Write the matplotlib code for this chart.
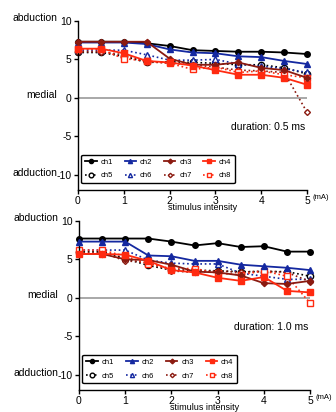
import matplotlib.pyplot as plt
import numpy as np

# stimulus intensity (mA)
intensity = [0, 0.5, 1, 1.5, 2, 2.5, 3, 3.5, 4, 4.5, 5]

channels = ["ch1", "ch2", "ch3", "ch4", "ch5", "ch6", "ch7", "ch8"]

# duration 0.5 ms
ch1_05 = [7.3, 7.3, 7.3, 7.1, 6.75, 6.2, 6.1, 6.0, 6.0, 5.9, 5.7]
ch2_05 = [7.2, 7.2, 7.2, 7.0, 6.3, 5.9, 5.8, 5.4, 5.3, 4.8, 4.4]
ch3_05 = [7.3, 7.3, 7.3, 7.3, 5.1, 4.3, 4.3, 4.6, 3.9, 3.6, 2.6]
ch4_05 = [6.4, 6.4, 5.8, 4.8, 4.6, 4.2, 3.6, 3.0, 3.0, 2.6, 1.7]
ch5_05 = [5.9, 5.9, 5.4, 4.6, 4.7, 4.6, 4.5, 4.3, 4.3, 3.9, 3.1]
ch6_05 = [6.2, 6.2, 6.2, 5.6, 4.9, 4.9, 5.0, 4.4, 4.1, 3.8, 3.3]
ch7_05 = [6.0, 6.0, 5.6, 4.7, 4.5, 4.3, 4.0, 3.6, 3.5, 3.3, -1.9]
ch8_05 = [6.3, 6.3, 5.1, 4.8, 4.5, 3.7, 4.0, 3.3, 3.5, 3.0, 2.6]

# duration 1.0 ms
ch1_10 = [7.7, 7.7, 7.7, 7.7, 7.3, 6.8, 7.1, 6.6, 6.7, 6.0, 6.0]
ch2_10 = [7.3, 7.3, 7.3, 5.5, 5.4, 4.8, 4.8, 4.3, 4.1, 3.9, 3.6]
ch3_10 = [5.7, 5.7, 5.0, 4.9, 4.3, 3.4, 3.3, 2.9, 1.9, 1.8, 2.2]
ch4_10 = [5.7, 5.7, 5.6, 4.8, 3.6, 3.3, 2.6, 2.2, 2.7, 0.9, 0.7]
ch5_10 = [6.0, 6.0, 5.1, 4.2, 3.6, 3.6, 3.5, 3.4, 3.4, 3.4, 2.8]
ch6_10 = [6.2, 6.2, 6.2, 4.9, 4.5, 4.4, 4.4, 3.2, 2.8, 2.4, 2.4]
ch7_10 = [5.9, 5.9, 4.8, 4.6, 3.5, 3.3, 3.5, 3.3, 3.5, 3.3, 2.1]
ch8_10 = [6.2, 6.2, 5.4, 4.4, 3.8, 3.8, 3.2, 3.0, 3.5, 2.8, -0.7]

panels = [
    ("duration: 0.5 ms", [ch1_05, ch2_05, ch3_05, ch4_05, ch5_05, ch6_05, ch7_05, ch8_05]),
    ("duration: 1.0 ms", [ch1_10, ch2_10, ch3_10, ch4_10, ch5_10, ch6_10, ch7_10, ch8_10]),
]

# 每个通道的样式: (颜色, 标记, 是否实心, 线型)
BLACK = "#000000"
BLUE = "#1428a0"
DARKRED = "#8b1a10"
RED = "#ff2a10"
styles = [
    (BLACK, "o", True, "-"),
    (BLUE, "^", True, "-"),
    (DARKRED, "D", True, "-"),
    (RED, "s", True, "-"),
    (BLACK, "o", False, ":"),
    (BLUE, "^", False, ":"),
    (DARKRED, "D", False, ":"),
    (RED, "s", False, ":"),
]
msizes = [4.0, 4.0, 3.2, 4.5, 4.5, 4.0, 3.0, 4.5]

plt.rcParams["font.family"] = ["Liberation Sans", "DejaVu Sans"]

fig = plt.figure(figsize=(3.36, 4.12), dpi=100)
boxes = [[0.232, 0.539, 0.682, 0.410], [0.235, 0.053, 0.688, 0.411]]

for (title, series), box in zip(panels, boxes):
    ax = fig.add_axes(box)
    ax.plot([0, 5], [0, 0], color="#999999", lw=1.2, zorder=1)
    handles = []
    for i, (name, values) in enumerate(zip(channels, series)):
        color, marker, filled, ls = styles[i]
        line, = ax.plot(intensity, values, color=color, marker=marker, ls=ls,
                        lw=1.3 if filled else 1.2, ms=msizes[i],
                        mfc=color if filled else "white", mec=color, mew=1.0,
                        label=name, zorder=3 if filled else 2, clip_on=False)
        handles.append(line)

    ax.set_xlim(0, 5)
    ax.set_ylim(-12, 10)
    ax.set_xticks([0, 1, 2, 3, 4, 5])
    ax.set_yticks([10, 5, 0, -5, -10])
    ax.set_yticklabels(["10", "5", "0", "-5", "-10"])
    for side in ["top", "right"]:
        ax.spines[side].set_visible(False)
    ax.spines["left"].set_linewidth(1.0)
    ax.spines["bottom"].set_linewidth(1.0)
    ax.tick_params(labelsize=7.5, length=3, width=1, pad=1.5)
    ax.set_xlabel("stimulus intensity", fontsize=6.5)
    ax.xaxis.set_label_coords(0.545, -0.075)

    ax.text(5.12, -12.5, "(mA)", fontsize=5.5, ha="left", va="top", clip_on=False)
    ax.text(-0.45, 10.4, "abduction", fontsize=7.5, ha="right", va="center")
    ax.text(-0.45, 0.4, "medial", fontsize=7.5, ha="right", va="center")
    ax.text(-0.45, -9.8, "adduction", fontsize=7.5, ha="right", va="center")
    ax.text(4.97, -3.8, title, fontsize=7.5, ha="right", va="center")

    # 图例按行排列: 先 ch1-ch4, 再 ch5-ch8
    order = [0, 4, 1, 5, 2, 6, 3, 7]
    leg = ax.legend([handles[k] for k in order], [channels[k] for k in order],
                    ncol=4, loc="lower left", mode="expand",
                    bbox_to_anchor=(0.015, 0.04, 0.67, 0.2), borderaxespad=0,
                    fontsize=5.5, frameon=True, fancybox=True, handlelength=1.5,
                    handletextpad=0.5, columnspacing=0.4, borderpad=0.5,
                    labelspacing=0.8, markerscale=0.75)
    leg.get_frame().set_edgecolor("black")
    leg.get_frame().set_linewidth(1.0)
    leg.get_frame().set_alpha(1)

fig.savefig("out.png", dpi=100)
